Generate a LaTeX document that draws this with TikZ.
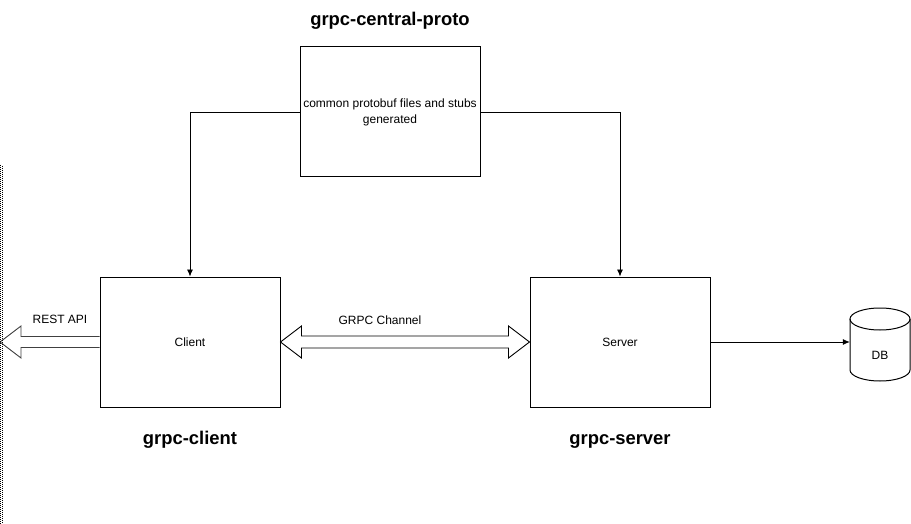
\documentclass[tikz,border=0pt]{standalone}
\usepackage{fontspec}
\setmainfont{Liberation Sans}
\usetikzlibrary{calc,arrows.meta}
\tikzset{
  box/.style={draw, line width=1pt, minimum width=180pt, minimum height=130pt, inner sep=0pt, align=center, font=\fontsize{12}{16}\selectfont},
  title/.style={font=\bfseries\fontsize{18.4}{20}\selectfont, anchor=base},
  lbl/.style={font=\fontsize{12}{14}\selectfont},
  conn/.style={line width=0.8pt, -{Latex[length=7pt,width=6pt]}},
  fat/.style={line width=0.9pt, fill=white, line join=miter}
}
\begin{document}
\begin{tikzpicture}[x=1pt,y=-1pt]
\useasboundingbox (0,0) rectangle (911,524);
\node[box] (proto) at (390,112) {common protobuf files and stubs\\generated};
\node[box] (client) at (190,342) {Client};
\node[box] (server) at (620,342) {Server};
\node[minimum width=60pt, minimum height=60pt, inner sep=0pt] (db) at (880,342) {};
\node[font=\fontsize{12}{14}\selectfont] (dbl) at (880,355) {DB};
\draw[line width=1pt] (850,319) -- (850,370) arc[start angle=180, end angle=360, x radius=30, y radius=-11] -- (910,319);
\draw[line width=1pt] (880,319) ellipse [x radius=30, y radius=11];
\node[title] (ptitle) at (390,26) {grpc-central-proto};
\node[title] (ctitle) at (190,444) {grpc-client};
\node[title] (stitle) at (620,444) {grpc-server};
\node[lbl] (rest) at (60,319) {REST API};
\node[lbl] (chan) at (380,320) {GRPC Channel};
\coordinate (edge) at (0,342);
\draw[conn] (proto.west) -| (client.north);
\draw[conn] (proto.east) -| (server.north);
\draw[conn] (server.east) -- (db.west);
% REST API hollow arrow
\draw[fat, draw=black!75] (client.west) ++(0,-5.5) -- ($(edge)+(21,-5.5)$) -- ($(edge)+(21,-16)$) -- (edge) -- ($(edge)+(21,16)$) -- ($(edge)+(21,5.5)$) -- ($(client.west)+(0,5.5)$);
% GRPC double arrow
\draw[fat] (client.east) -- ($(client.east)+(21,-16)$) -- ($(client.east)+(21,-6)$) -- ($(server.west)+(-21,-6)$) -- ($(server.west)+(-21,-16)$) -- (server.west) -- ($(server.west)+(-21,16)$) -- ($(server.west)+(-21,6)$) -- ($(client.east)+(21,6)$) -- ($(client.east)+(21,16)$) -- cycle;
% dotted left edge
\draw[line width=1pt, dash pattern=on 1pt off 1pt] (0.5,165) -- (0.5,524);
\draw[line width=1pt, dash pattern=on 1pt off 1pt, dash phase=1pt] (2.5,165) -- (2.5,524);
\end{tikzpicture}
\end{document}
